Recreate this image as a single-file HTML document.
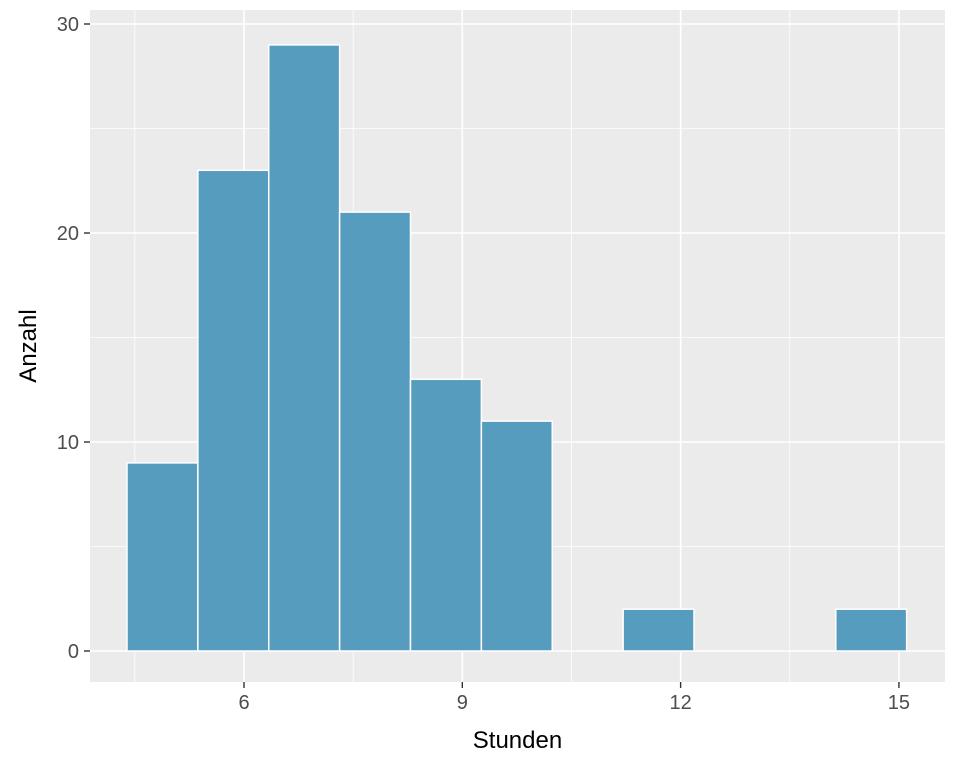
<!DOCTYPE html>
<html><head><meta charset="utf-8"><style>
body{margin:0;background:#fff}
svg text{font-family:"Liberation Sans",Arial,sans-serif}
</style></head><body>
<svg id="chart" width="960" height="768" viewBox="0 0 960 768"></svg>
<script>
const binStart = 4.392;
const binWidth = 0.974;
const counts = [9, 23, 29, 21, 13, 11, 0, 2, 0, 0, 2];
const xTicks = [6, 9, 12, 15];
const xMinor = [4.5, 7.5, 10.5, 13.5];
const yTicks = [0, 10, 20, 30];
const yMinor = [5, 15, 25];

const L = 90, R = 945, T = 10, B = 682;
const xs = v => 244 + (v - 6) * 72.77;
const ys = v => 651 - v * 20.9;
const NS = "http://www.w3.org/2000/svg";
const svg = document.getElementById("chart");
function mk(tag, attrs, parent) {
  const e = document.createElementNS(NS, tag);
  for (const k in attrs) e.setAttribute(k, attrs[k]);
  (parent || svg).appendChild(e);
  return e;
}
const panel = mk("rect", {x: L, y: T, width: R - L, height: B - T, fill: "#ebebeb"});


yMinor.forEach(v => {
  const l = mk("line", {x1: L, x2: R, y1: ys(v), y2: ys(v), stroke: "#fff", "stroke-width": 0.8});
  
  
});
xMinor.forEach(v => {
  const l = mk("line", {x1: xs(v), x2: xs(v), y1: T, y2: B, stroke: "#fff", "stroke-width": 0.8});
  
  
});
yTicks.forEach(v => {
  const l = mk("line", {x1: L, x2: R, y1: ys(v), y2: ys(v), stroke: "#fff", "stroke-width": 1.6});
  
  
  const t = mk("line", {x1: L - 6, x2: L, y1: ys(v), y2: ys(v), stroke: "#333", "stroke-width": 1.4});
  
  
  const tx = mk("text", {x: L - 11, y: ys(v) + 7, "text-anchor": "end", "font-size": 20, fill: "#4d4d4d"});
  tx.textContent = v;
  
  
});
xTicks.forEach(v => {
  const l = mk("line", {x1: xs(v), x2: xs(v), y1: T, y2: B, stroke: "#fff", "stroke-width": 1.6});
  
  
  const t = mk("line", {x1: xs(v), x2: xs(v), y1: B, y2: B + 6, stroke: "#333", "stroke-width": 1.4});
  
  
  const tx = mk("text", {x: xs(v), y: B + 27, "text-anchor": "middle", "font-size": 20, fill: "#4d4d4d"});
  tx.textContent = v;
  
  
});
counts.forEach((c, i) => {
  if (c <= 0) return;
  const x0 = xs(binStart + i * binWidth), x1 = xs(binStart + (i + 1) * binWidth);
  const r = mk("rect", {x: x0, y: ys(c), width: x1 - x0, height: ys(0) - ys(c), fill: "#569cbf", stroke: "#fff", "stroke-width": 1.5});
  
  
});
const xt = mk("text", {x: (L + R) / 2, y: 748, "text-anchor": "middle", "font-size": 24, fill: "#000"});
xt.textContent = "Stunden";


const yt = mk("text", {x: 0, y: 0, "text-anchor": "middle", "font-size": 24, fill: "#000", transform: "translate(36," + ((T + B) / 2) + ") rotate(-90)"});
yt.textContent = "Anzahl";


</script>
</body></html>
